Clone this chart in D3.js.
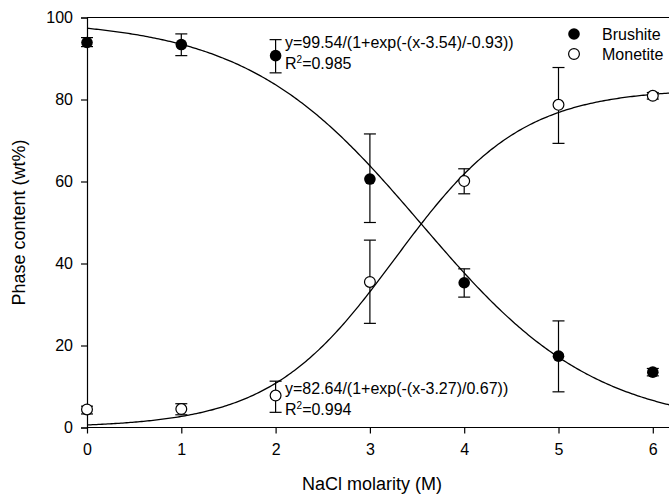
<!DOCTYPE html>
<html>
<head>
<meta charset="utf-8">
<script src="https://cdn.jsdelivr.net/npm/d3@7"></script>
<style>
body { margin: 0; background: #fff; }
text { font-family: "Liberation Sans", Arial, sans-serif; fill: #000; }
</style>
</head>
<body>
<div id="viz"></div>
<script>
// data
var molarity = [0, 1, 2, 3, 4, 5, 6];
var brushite = [93.9, 93.4, 90.7, 60.6, 35.3, 17.4, 13.5];
var brushiteLo = [92.9, 90.7, 86.5, 50.0, 31.8, 8.7, 12.6];
var brushiteHi = [95.1, 96.0, 94.6, 71.6, 38.7, 26.0, 14.4];
var monetite = [4.4, 4.5, 7.8, 35.5, 60.1, 78.7, 80.9];
var monetiteLo = [3.3, 3.1, 3.7, 25.4, 57.0, 69.3, 80.1];
var monetiteHi = [5.2, 5.8, 11.3, 45.7, 63.1, 87.8, 81.7];
// sigmoid fit parameters printed on the chart: a, x0, b
var brushiteFit = [99.54, 3.54, -0.93];
var monetiteFit = [82.64, 3.27, 0.67];
var xTicks = [0, 1, 2, 3, 4, 5, 6];
var yTicks = [0, 20, 40, 60, 80, 100];

var width = 669, height = 498;

var svg = d3.select("#viz").append("svg")
	.attr("width", width)
	.attr("height", height);

var x = d3.scaleLinear().domain([0, 6.5]).range([87, 87 + 6.5 * 94.3]);
var y = d3.scaleLinear().domain([0, 100]).range([427.5, 17.5]);

// frame: top line and axes
svg.append("line")
	.attr("x1", x(0)).attr("x2", width)
	.attr("y1", y(100)).attr("y2", y(100))
	.attr("stroke", "#000").attr("stroke-width", 1.2);

var xAxis = svg.append("g")
	.attr("transform", "translate(0," + y(0) + ")")
	.call(d3.axisBottom(x).tickValues(xTicks).tickFormat(d3.format("d")).tickSize(6).tickPadding(10));
var yAxis = svg.append("g")
	.attr("transform", "translate(" + x(0) + ",0)")
	.call(d3.axisLeft(y).tickValues(yTicks).tickFormat(d3.format("d")).tickSize(6).tickPadding(8));

[xAxis, yAxis].forEach(g=>{
	g.select(".domain").attr("stroke", "#000").attr("stroke-width", 1.2);
	g.selectAll(".tick line").attr("stroke", "#000").attr("stroke-width", 1.2);
	g.selectAll(".tick text").style("font-family", '"Liberation Sans", Arial, sans-serif').style("font-size", "16px").attr("fill", "#000");
});
// extend bottom axis to right edge
xAxis.select(".domain").attr("d", "M" + x(0) + ",0H" + width);

svg.append("text")
	.attr("transform", "translate(25," + y(50) + ") rotate(-90)")
	.attr("text-anchor", "middle")
	.style("font-size", "18px")
	.text("Phase content (wt%)");

svg.append("text")
	.attr("x", 372).attr("y", 490)
	.attr("text-anchor", "middle")
	.style("font-size", "18px")
	.text("NaCl molarity (M)");

// error bars
function errorBars(lo, hi) {
	var g = svg.append("g").attr("stroke", "#000").attr("stroke-width", 1.2);
	molarity.forEach((m, i)=>{
		g.append("line").attr("x1", x(m)).attr("x2", x(m)).attr("y1", y(lo[i])).attr("y2", y(hi[i]));
		g.append("line").attr("x1", x(m) - 6).attr("x2", x(m) + 6).attr("y1", y(lo[i])).attr("y2", y(lo[i]));
		g.append("line").attr("x1", x(m) - 6).attr("x2", x(m) + 6).attr("y1", y(hi[i])).attr("y2", y(hi[i]));
	});
}
errorBars(brushiteLo, brushiteHi);
errorBars(monetiteLo, monetiteHi);

// fit curves
function sigmoid(p, xv) {
	return p[0] / (1 + Math.exp(-(xv - p[1]) / p[2]));
}
var xs = d3.range(0, 6.5001, 0.02);
var line = d3.line().x(d=>x(d[0])).y(d=>y(d[1]));
[brushiteFit, monetiteFit].forEach(p=>{
	svg.append("path")
		.attr("d", line(xs.map(v=>[v, sigmoid(p, v)])))
		.attr("fill", "none")
		.attr("stroke", "#000")
		.attr("stroke-width", 1.3);
});

// points
svg.selectAll("circle.brushite")
	.data(molarity)
	.enter()
	.append("circle")
	.attr("class", "brushite")
	.attr("cx", d=>x(d))
	.attr("cy", (d, i)=>y(brushite[i]))
	.attr("r", 5.8)
	.attr("fill", "#000");

svg.selectAll("circle.monetite")
	.data(molarity)
	.enter()
	.append("circle")
	.attr("class", "monetite")
	.attr("cx", d=>x(d))
	.attr("cy", (d, i)=>y(monetite[i]))
	.attr("r", 5.4)
	.attr("fill", "#fff")
	.attr("stroke", "#000")
	.attr("stroke-width", 1.2);

// fit equations
function equation(yy, p, r2) {
	svg.append("text")
		.attr("x", 285).attr("y", yy)
		.style("font-size", "16px")
		.text("y=" + p[0] + "/(1+exp(-(x-" + p[1] + ")/" + p[2].toFixed(2) + "))");
	var t = svg.append("text")
		.attr("x", 285).attr("y", yy + 21)
		.style("font-size", "16px");
	t.append("tspan").text("R");
	t.append("tspan").attr("dy", -6).style("font-size", "10px").text("2");
	t.append("tspan").attr("dy", 6).text("=" + r2);
}
equation(48, brushiteFit, "0.985");
equation(394, monetiteFit, "0.994");

// legend
svg.append("circle").attr("cx", 574).attr("cy", 34).attr("r", 5.8).attr("fill", "#000");
svg.append("circle").attr("cx", 574).attr("cy", 54).attr("r", 5.4)
	.attr("fill", "#fff").attr("stroke", "#000").attr("stroke-width", 1.2);
svg.append("text").attr("x", 602).attr("y", 40).style("font-size", "16px").text("Brushite");
svg.append("text").attr("x", 602).attr("y", 60).style("font-size", "16px").text("Monetite");
</script>
</body>
</html>
